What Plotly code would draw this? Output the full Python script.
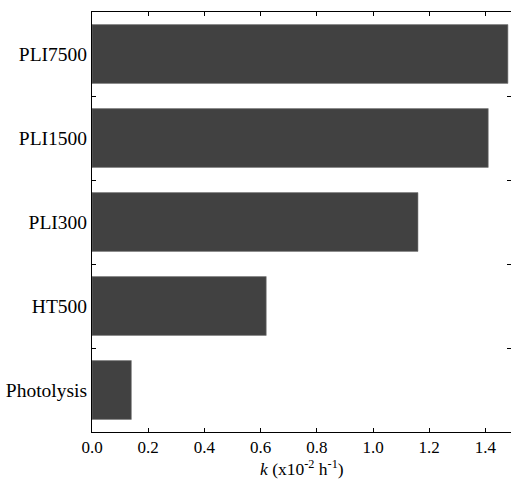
import plotly.graph_objects as go

categories = ["Photolysis", "HT500", "PLI300", "PLI1500", "PLI7500"]
k_values = [0.14, 0.62, 1.16, 1.41, 1.48]
x_title = "<i>k</i> (x10<sup>-2</sup> h<sup>-1</sup>)"

fig = go.Figure(go.Bar(
    x=k_values, y=categories, orientation="h", width=0.7,
    marker=dict(color="#414141", line=dict(color="#7a7a7a", width=0.6)),
))

font_family = "Liberation Serif, Tinos, Times New Roman, DejaVu Serif, serif"
fig.update_layout(
    width=511, height=480,
    margin=dict(l=92, r=0, t=12, b=48, autoexpand=False),
    plot_bgcolor="white", paper_bgcolor="white",
    showlegend=False,
    font=dict(family=font_family, color="black"),
)
fig.update_xaxes(
    range=[0, 1.491], dtick=0.2, tick0=0, tickformat=".1f",
    ticks="inside", ticklen=4, tickwidth=1, tickcolor="black",
    showline=True, linecolor="black", linewidth=1, mirror="ticks",
    showgrid=False, zeroline=False, automargin=False,
    tickfont=dict(size=17, family=font_family),
)
fig.update_yaxes(
    type="category", categoryorder="array", categoryarray=categories,
    range=[-0.5, 4.5], tickson="boundaries",
    ticks="inside", ticklen=4, tickwidth=1, tickcolor="black",
    showline=True, linecolor="black", linewidth=1, mirror="ticks",
    showgrid=False, zeroline=False, automargin=False,
    tickfont=dict(size=19.5, family=font_family),
)
fig.add_annotation(
    text=x_title, xref="paper", yref="paper", x=0.5, y=-0.086,
    xanchor="center", yanchor="middle", showarrow=False,
    font=dict(size=17.5, family=font_family),
)

fig.write_html(
    "out.html",
    config={"displayModeBar": False},
    post_script="document.body.style.margin='0';document.body.style.padding='0';",
)
